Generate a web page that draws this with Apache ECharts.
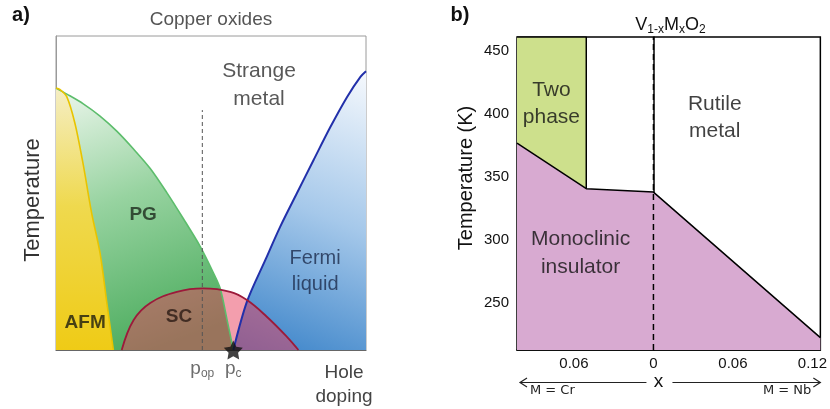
<!DOCTYPE html>
<html>
<head>
<meta charset="utf-8">
<script src="https://cdn.jsdelivr.net/npm/echarts@6/dist/echarts.min.js"></script>
<style>
  html, body { margin: 0; padding: 0; background: #fff; }
  #c { width: 830px; height: 409px; }
</style>
</head>
<body>
<div id="c"></div>
<script>
// ---------- Panel a: schematic cuprate phase diagram (normalised doping / temperature) ----------
const afmDoping   = [0, 0.012, 0.035, 0.061, 0.087, 0.115, 0.142, 0.164, 0.185];
const afmTemp     = [0.834, 0.83, 0.806, 0.722, 0.595, 0.436, 0.309, 0.150, 0];

const pgDoping    = [0, 0.035, 0.088, 0.142, 0.196, 0.250, 0.304, 0.357, 0.411, 0.465, 0.508, 0.530, 0.551, 0.572];
const pgTemp      = [0.834, 0.815, 0.784, 0.745, 0.697, 0.640, 0.578, 0.502, 0.418, 0.330, 0.245, 0.195, 0.100, 0];

const scDoping    = [0.212, 0.250, 0.304, 0.390, 0.475, 0.562, 0.616, 0.680, 0.745, 0.782];
const scTemp      = [0, 0.095, 0.150, 0.185, 0.196, 0.185, 0.159, 0.106, 0.042, 0];

const fermiDoping = [0.572, 0.616, 0.675, 0.723, 0.777, 0.831, 0.885, 0.939, 0.982, 1.0];
const fermiTemp   = [0, 0.154, 0.286, 0.392, 0.499, 0.605, 0.710, 0.806, 0.870, 0.888];

const pOptimal  = 0.472;   // optimal doping
const pCritical = 0.572;   // critical point
const pOptimalLineTop = 0.764;
const dopingTicks = [pOptimal, pCritical];
const dopingTickNames = ['op', 'c'];

// ---------- Panel b: V(1-x)M(x)O2, M = Cr (left) / Nb (right) ----------
const xMin = -0.103, xMax = 0.126;          // negative side = Cr content, positive = Nb content
const tempMin = 213, tempMax = 461;
const transitionX = [-0.103, -0.0507, 0, 0.126];
const transitionT = [377, 340.8, 338.1, 222.8];
const twoPhaseEdge = -0.0507;
const compositionTicks = [-0.06, 0, 0.06, 0.12];
const tempTicks = [250, 300, 350, 400, 450];

const zip = (a, b) => a.map((v, i) => [v, b[i]]);

const FONT = '"Liberation Sans", Arial, Helvetica, sans-serif';
const chart = echarts.init(document.getElementById('c'), null, { renderer: 'canvas' });

const LG = echarts.graphic.LinearGradient;
const starPath = 'path://M0,-10 L2.94,-4.05 L9.51,-3.09 L4.76,1.55 L5.88,8.09 L0,5 L-5.88,8.09 L-4.76,1.55 L-9.51,-3.09 L-2.94,-4.05 Z';

const labelStyle = (size, color, weight) => ({
  show: true, position: 'inside', fontFamily: FONT, fontSize: size,
  color: color, fontWeight: weight || 'normal', lineHeight: size * 1.3,
  formatter: p => p.name
});

const option = {
  animation: false,
  backgroundColor: '#fff',
  grid: [
    { left: 56, top: 36, width: 310, height: 314, show: true, borderColor: '#9a9a9a', borderWidth: 1, backgroundColor: 'transparent' },
    { left: 517, top: 37, right: 8, bottom: 59, show: true, borderColor: '#000', borderWidth: 1.5, backgroundColor: 'transparent' }
  ],
  xAxis: [
    {
      gridIndex: 0, type: 'value', min: 0, max: 1,
      axisLine: { show: true, lineStyle: { color: '#666', width: 1.2 } },
      axisTick: { show: false }, splitLine: { show: false },
      axisLabel: {
        customValues: dopingTicks, margin: 8, color: '#6d6d6d',
        formatter: v => '{p|p}{s|' + dopingTickNames[dopingTicks.indexOf(v)] + '}',
        rich: {
          p: { fontFamily: FONT, fontSize: 19, color: '#6d6d6d', lineHeight: 22 },
          s: { fontFamily: FONT, fontSize: 12, color: '#6d6d6d', verticalAlign: 'bottom' }
        }
      }
    },
    {
      gridIndex: 1, type: 'value', min: xMin, max: xMax,
      axisLine: { show: true, lineStyle: { color: '#000', width: 1.5 } },
      axisTick: { show: false }, splitLine: { show: false },
      axisLabel: {
        customValues: compositionTicks, margin: 6, color: '#111',
        fontFamily: FONT, fontSize: 15,
        formatter: v => String(Math.abs(Math.round(v * 100) / 100))
      }
    }
  ],
  yAxis: [
    {
      gridIndex: 0, type: 'value', min: 0, max: 1,
      axisLine: { show: true, lineStyle: { color: '#9a9a9a', width: 1 } },
      axisTick: { show: false }, splitLine: { show: false }, axisLabel: { show: false }
    },
    {
      gridIndex: 1, type: 'value', min: tempMin, max: tempMax,
      axisLine: { show: true, lineStyle: { color: '#000', width: 1.5 } },
      axisTick: { show: false }, splitLine: { show: false },
      axisLabel: { customValues: tempTicks, margin: 8, color: '#111', fontFamily: FONT, fontSize: 15 }
    }
  ],
  series: [
    // --- panel a ---
    {
      name: 'PG', type: 'line', xAxisIndex: 0, yAxisIndex: 0,
      data: zip(pgDoping, pgTemp), smooth: 0.3, symbol: 'none',
      lineStyle: { color: '#5dbd6c', width: 1.6 },
      areaStyle: { origin: 'start', opacity: 1, color: new LG(0, 0, 0.55, 1, [
        { offset: 0, color: '#eef7ee' }, { offset: 0.45, color: '#97d3a0' }, { offset: 1, color: '#4aab5c' }
      ]) }
    },
    {
      name: 'AFM', type: 'line', xAxisIndex: 0, yAxisIndex: 0,
      data: zip(afmDoping, afmTemp), smooth: 0.3, symbol: 'none',
      lineStyle: { color: '#e8c400', width: 1.6 },
      areaStyle: { origin: 'start', opacity: 1, color: new LG(0, 0, 0, 1, [
        { offset: 0, color: '#f5eec4' }, { offset: 0.45, color: '#efd94e' }, { offset: 1, color: '#efcb16' }
      ]) }
    },
    {
      name: 'Fermi liquid', type: 'line', xAxisIndex: 0, yAxisIndex: 0,
      data: zip(fermiDoping, fermiTemp), smooth: 0.3, symbol: 'none',
      lineStyle: { color: '#2230aa', width: 2 },
      areaStyle: { origin: 'start', opacity: 1, color: new LG(1, 0, 0.15, 1, [
        { offset: 0, color: '#f6f9fd' }, { offset: 0.5, color: '#a5c8ea' }, { offset: 1, color: '#3c84c9' }
      ]) }
    },
    {
      name: 'SC', type: 'line', xAxisIndex: 0, yAxisIndex: 0,
      data: zip(scDoping, scTemp), smooth: 0.4, symbol: 'none',
      lineStyle: { color: '#9c1a3a', width: 1.8 },
      areaStyle: { origin: 'start', color: 'rgba(232,62,92,0.5)', opacity: 1 }
    },
    {
      name: 'p_op', type: 'line', xAxisIndex: 0, yAxisIndex: 0,
      data: [[pOptimal, 0], [pOptimal, pOptimalLineTop]], symbol: 'none',
      lineStyle: { color: '#555', width: 1, type: [4, 3] }
    },
    {
      name: 'p_c', type: 'scatter', xAxisIndex: 0, yAxisIndex: 0, clip: false,
      data: [[pCritical, 0]], symbol: starPath, symbolSize: 19,
      itemStyle: { color: '#111' }, z: 5
    },
    {
      name: 'labels a', type: 'scatter', xAxisIndex: 0, yAxisIndex: 0, symbolSize: 0, z: 6,
      data: [
        { name: 'Strange\nmetal', value: [0.655, 0.843], label: labelStyle(21, '#2e2e2e') },
        { name: 'PG',   value: [0.281, 0.430], label: labelStyle(19, '#1d2a1d', 'bold') },
        { name: 'AFM',  value: [0.094, 0.086], label: labelStyle(19, '#1d1d10', 'bold') },
        { name: 'SC',   value: [0.397, 0.105], label: labelStyle(19, '#2a1a14', 'bold') },
        { name: 'Fermi\nliquid', value: [0.836, 0.251], label: labelStyle(20, '#1d2c4c') }
      ]
    },
    // --- panel b ---
    {
      name: 'Two phase', type: 'line', xAxisIndex: 1, yAxisIndex: 1,
      data: [[xMin, tempMax], [twoPhaseEdge, tempMax], [twoPhaseEdge, transitionT[1]]],
      symbol: 'none', lineStyle: { color: '#000', width: 1.5 },
      areaStyle: { origin: 'start', color: '#cde08c', opacity: 1 }
    },
    {
      name: 'Monoclinic insulator', type: 'line', xAxisIndex: 1, yAxisIndex: 1,
      data: zip(transitionX, transitionT), symbol: 'none',
      lineStyle: { color: '#000', width: 1.5 },
      areaStyle: { origin: 'start', color: '#d8aad1', opacity: 1 }
    },
    {
      name: 'x = 0', type: 'line', xAxisIndex: 1, yAxisIndex: 1,
      data: [[0, tempMin], [0, tempMax]], symbol: 'none',
      lineStyle: { color: '#000', width: 1.5, type: [6, 4] }
    },
    {
      name: 'labels b', type: 'scatter', xAxisIndex: 1, yAxisIndex: 1, symbolSize: 0, z: 6,
      data: [
        { name: 'Two\nphase', value: [-0.077, 408], label: labelStyle(21, '#111') },
        { name: 'Rutile\nmetal', value: [0.0463, 397], label: labelStyle(21, '#111') },
        { name: 'Monoclinic\ninsulator', value: [-0.055, 289.7], label: labelStyle(21, '#111') }
      ]
    }
  ]
};

chart.setOption(option);

// Decorations placed from the axes' own pixel mapping
const a0 = chart.convertToPixel({ gridIndex: 0 }, [0, 0]);
const a1 = chart.convertToPixel({ gridIndex: 0 }, [1, 1]);
const b0 = chart.convertToPixel({ gridIndex: 1 }, [xMin, tempMin]);
const b1 = chart.convertToPixel({ gridIndex: 1 }, [xMax, tempMax]);
const bZero = chart.convertToPixel({ gridIndex: 1 }, [0, tempMin]);

const gL = b0[0], gR = b1[0], gB = b0[1];
const arrowY = gB + 32.5, noteY = gB + 41;
const VERD = '"DejaVu Sans", Verdana, sans-serif';

chart.setOption({
  graphic: [
    { type: 'text', x: 21, y: 15, style: { text: 'a)', font: 'bold 20px ' + FONT, fill: '#111', align: 'center', verticalAlign: 'middle' } },
    { type: 'text', x: (a0[0] + a1[0]) / 2, y: 20, style: { text: 'Copper oxides', font: '19px ' + FONT, fill: '#555', align: 'center', verticalAlign: 'middle' } },
    { type: 'text', x: a0[0] - 23, y: 200, rotation: Math.PI / 2, style: { text: 'Temperature', font: '22px ' + FONT, fill: '#333', align: 'center', verticalAlign: 'middle' } },
    { type: 'text', x: a1[0] - 22, y: a0[1] + 35, style: { text: 'Hole\ndoping', font: '19px ' + FONT, fill: '#444', align: 'center', verticalAlign: 'middle', lineHeight: 24 } },
    { type: 'text', x: 460, y: 15, style: { text: 'b)', font: 'bold 20px ' + FONT, fill: '#111', align: 'center', verticalAlign: 'middle' } },
    { type: 'text', x: gL - 51, y: 178, rotation: Math.PI / 2, style: { text: 'Temperature (K)', font: '20px ' + FONT, fill: '#111', align: 'center', verticalAlign: 'middle' } },
    { type: 'text', x: bZero[0] + 17, y: 25, style: {
        text: '{n|V}{s|1-x}{n|M}{s|x}{n|O}{s|2}', align: 'center', verticalAlign: 'middle',
        rich: {
          n: { font: '18px ' + FONT, fill: '#111', lineHeight: 22 },
          s: { font: '12px ' + FONT, fill: '#111', verticalAlign: 'bottom' }
        }
    } },
    // composition arrows under panel b
    { type: 'line', shape: { x1: gL + 3, y1: arrowY, x2: bZero[0] - 7, y2: arrowY }, style: { stroke: '#222', lineWidth: 1.2 } },
    { type: 'polyline', shape: { points: [[gL + 10, arrowY - 4.5], [gL + 3, arrowY], [gL + 10, arrowY + 4.5]] }, style: { stroke: '#222', lineWidth: 1.2, fill: null } },
    { type: 'line', shape: { x1: bZero[0] + 19, y1: arrowY, x2: gR, y2: arrowY }, style: { stroke: '#222', lineWidth: 1.2 } },
    { type: 'polyline', shape: { points: [[gR - 7, arrowY - 4.5], [gR, arrowY], [gR - 7, arrowY + 4.5]] }, style: { stroke: '#222', lineWidth: 1.2, fill: null } },
    { type: 'text', x: bZero[0] + 5, y: arrowY - 1, style: { text: 'x', font: '19px ' + FONT, fill: '#111', align: 'center', verticalAlign: 'middle' } },
    { type: 'text', x: gL + 13, y: noteY, style: { text: 'M = Cr', font: '13px ' + VERD, fill: '#222', align: 'left', verticalAlign: 'middle' } },
    { type: 'text', x: gR - 9, y: noteY, style: { text: 'M = Nb', font: '13px ' + VERD, fill: '#222', align: 'right', verticalAlign: 'middle' } }
  ]
});
</script>
</body>
</html>
